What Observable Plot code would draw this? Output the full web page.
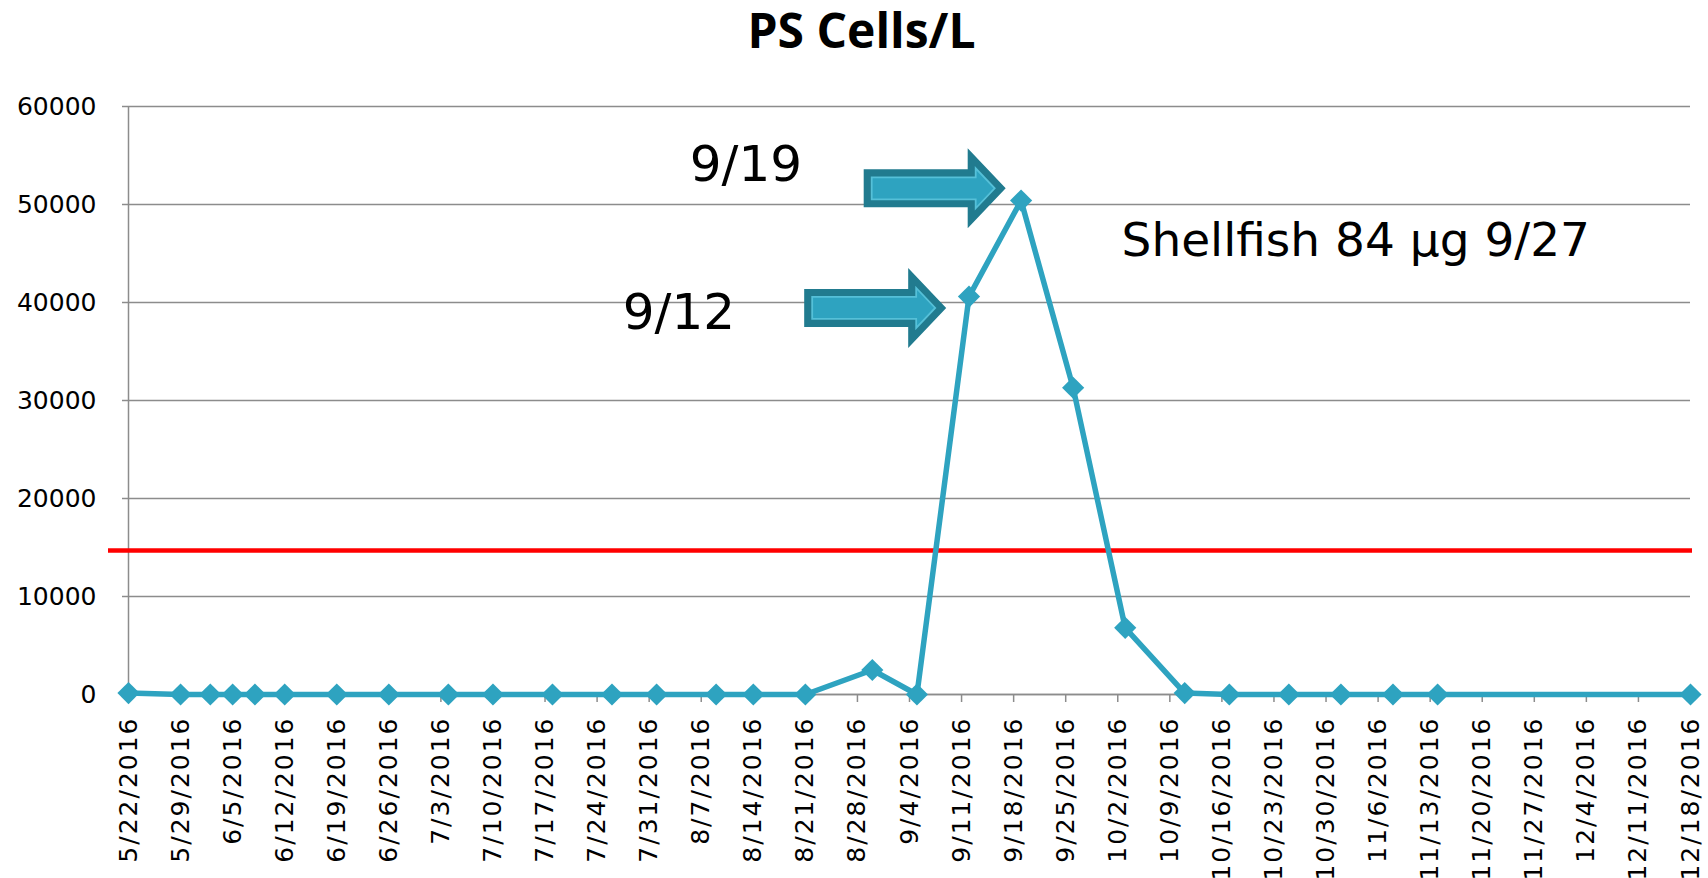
<!DOCTYPE html>
<html>
<head>
<meta charset="utf-8">
<script src="https://cdn.jsdelivr.net/npm/d3@7"></script>
<script src="https://cdn.jsdelivr.net/npm/@observablehq/plot@0.6"></script>
<style>
html, body { margin: 0; padding: 0; background: #ffffff; }
#chart svg { display: block; }
g[aria-label="x-axis tick label"] text { letter-spacing: 2px; }
</style>
</head>
<body>
<div id="chart"></div>
<script>
// ---- data ----
const sampleDates = [
  "5/22/2016", "5/29/2016", "6/2/2016", "6/5/2016", "6/8/2016", "6/12/2016",
  "6/19/2016", "6/26/2016", "7/4/2016", "7/10/2016", "7/18/2016", "7/26/2016",
  "8/1/2016", "8/9/2016", "8/14/2016", "8/21/2016", "8/30/2016", "9/5/2016",
  "9/12/2016", "9/19/2016", "9/26/2016", "10/3/2016", "10/11/2016", "10/17/2016",
  "10/25/2016", "11/1/2016", "11/8/2016", "11/14/2016", "12/18/2016"
];
const cellsPerL = [
  150, 0, 0, 0, 0, 0,
  0, 0, 0, 0, 0, 0,
  0, 0, 0, 0, 2500, 0,
  40600, 50400, 31300, 6800, 150, 0,
  0, 0, 0, 0, 0
];
const threshold = [14700];

const xTickLabels = [
  "5/22/2016", "5/29/2016", "6/5/2016", "6/12/2016", "6/19/2016", "6/26/2016",
  "7/3/2016", "7/10/2016", "7/17/2016", "7/24/2016", "7/31/2016", "8/7/2016",
  "8/14/2016", "8/21/2016", "8/28/2016", "9/4/2016", "9/11/2016", "9/18/2016",
  "9/25/2016", "10/2/2016", "10/9/2016", "10/16/2016", "10/23/2016", "10/30/2016",
  "11/6/2016", "11/13/2016", "11/20/2016", "11/27/2016", "12/4/2016", "12/11/2016",
  "12/18/2016"
];
const yTicks = [0, 10000, 20000, 30000, 40000, 50000, 60000];

const titleText = ["PS Cells/L"];

// annotation labels (anchored in data coordinates)
const dateLabels = ["9/19", "9/12"];
const dateLabelAt = ["8/13/2016", "8/4/2016"];
const dateLabelValue = [54000, 38900];

const noteText = ["Shellfish 84 μg 9/27"];
const noteAt = ["11/3/2016"];
const noteValue = [46300];

// arrow tips (data coordinates)
const arrowTipAt = ["9/17/2016", "9/9/2016"];
const arrowTipValue = [51600, 39400];

// ---- build tables ----
const parse = d3.utcParse("%m/%d/%Y");
const series = sampleDates.map((d, i) => ({date: parse(d), value: cellsPerL[i]}));
const tickDates = xTickLabels.map(parse);
const tickLabelOf = new Map(tickDates.map((d, i) => [+d, xTickLabels[i]]));
const labels = dateLabels.map((t, i) => ({text: t, date: parse(dateLabelAt[i]), value: dateLabelValue[i]}));
const notes = noteText.map((t, i) => ({text: t, date: parse(noteAt[i]), value: noteValue[i]}));
const arrows = arrowTipAt.map((d, i) => ({date: parse(d), value: arrowTipValue[i]}));

const GRID = "#8c8c8c";
const TEAL = "#2ea3c0";

function blockArrows(index, scales) {
  const g = d3.create("svg:g").attr("aria-label", "arrows");
  const L = 142, Lh = 38, bh = 19, hh = 40;
  for (const a of arrows) {
    const tx = scales.x(a.date), ty = scales.y(a.value);
    const outer = [
      [tx - L, ty - bh], [tx - Lh, ty - bh], [tx - Lh, ty - hh], [tx, ty],
      [tx - Lh, ty + hh], [tx - Lh, ty + bh], [tx - L, ty + bh]
    ];
    const inner = [
      [tx - L + 8, ty - 11], [tx - 30, ty - 11], [tx - 30, ty - 20], [tx - 11, ty],
      [tx - 30, ty + 20], [tx - 30, ty + 11], [tx - L + 8, ty + 11]
    ];
    g.append("path").attr("d", "M" + outer.join("L") + "Z").attr("fill", "#217b8f");
    g.append("path").attr("d", "M" + inner.join("L") + "Z")
      .attr("fill", TEAL).attr("stroke", "#55c0d8").attr("stroke-width", 1.8);
  }
  return g.node();
}

const chart = Plot.plot({
  width: 1708,
  height: 878,
  marginLeft: 128,
  marginRight: 18,
  marginTop: 106,
  marginBottom: 184,
  style: {fontFamily: "DejaVu Sans", background: "#ffffff", color: "#000"},
  x: {type: "utc", domain: [tickDates[0], tickDates[tickDates.length - 1]]},
  y: {domain: [0, 60000]},
  marks: [
    Plot.gridY(yTicks, {stroke: GRID, strokeOpacity: 1, strokeWidth: 1.5}),
    Plot.axisY(yTicks, {
      tickSize: 6, tickPadding: 26, fontSize: 25, stroke: GRID, strokeWidth: 1.5,
      fill: "#000", label: null, tickFormat: d => String(d)
    }),
    Plot.ruleX([tickDates[0]], {stroke: GRID, strokeWidth: 1.5, insetBottom: -8}),
    Plot.ruleY([0], {stroke: GRID, strokeWidth: 1.5}),
    Plot.axisX(tickDates, {
      tickSize: 8, tickPadding: 14, tickRotate: -90, fontSize: 25, stroke: GRID, strokeWidth: 1.5,
      fill: "#000", label: null, tickFormat: d => tickLabelOf.get(+d)
    }),
    Plot.ruleY(threshold, {stroke: "#ff0000", strokeWidth: 4.5, insetLeft: -20, insetRight: -2}),
    Plot.line(series, {x: "date", y: "value", stroke: TEAL, strokeWidth: 5.5}),
    Plot.dot(series, {x: "date", y: "value", symbol: "diamond2", r: 10, fill: TEAL, stroke: "none"}),
    blockArrows,
    Plot.text(labels, {x: "date", y: "value", text: "text", fontSize: 50, fill: "#000", lineAnchor: "middle"}),
    Plot.text(notes, {x: "date", y: "value", text: "text", fontSize: 47, fill: "#000", lineAnchor: "middle"}),
    Plot.text(titleText, {
      frameAnchor: "top", lineAnchor: "middle", dx: -48, dy: -74,
      fontSize: 48, fontWeight: "bold", fontFamily: "Open Sans", fill: "#000"
    })
  ]
});
document.getElementById("chart").appendChild(chart);
</script>
</body>
</html>
